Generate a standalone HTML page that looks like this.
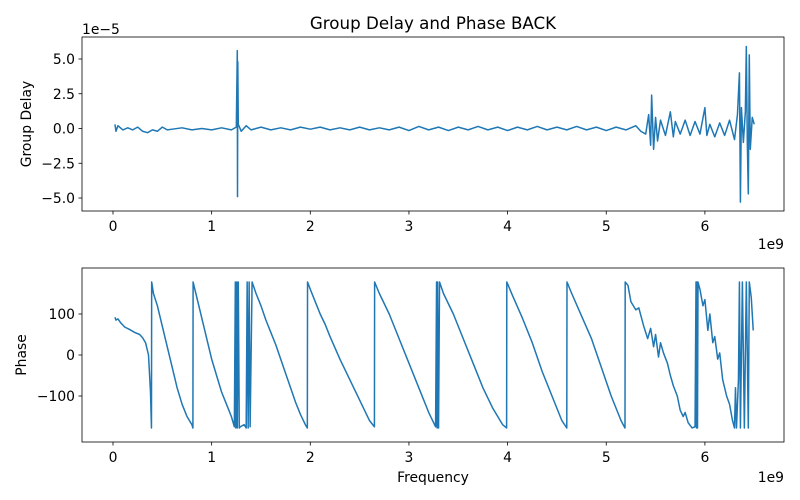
<!DOCTYPE html>
<html><head><meta charset="utf-8"><style>
body{margin:0;background:#fff}
svg{display:block;font-family:"DejaVu Sans","Liberation Sans",sans-serif}
</style></head><body>
<svg id="chart" width="800" height="500"></svg>
<script>
const gdFreq=[0.02,0.03,0.05,0.1,0.15,0.2,0.25,0.3,0.35,0.4,0.45,0.5,0.55,0.6,0.7,0.8,0.9,1.0,1.1,1.2,1.25,1.26,1.262,1.265,1.27,1.3,1.35,1.4,1.5,1.6,1.7,1.8,1.9,2.0,2.1,2.2,2.3,2.4,2.5,2.6,2.7,2.8,2.9,3.0,3.1,3.2,3.3,3.4,3.5,3.6,3.7,3.8,3.9,4.0,4.1,4.2,4.3,4.4,4.5,4.6,4.7,4.8,4.9,5.0,5.1,5.2,5.3,5.35,5.4,5.43,5.45,5.46,5.48,5.5,5.52,5.55,5.6,5.65,5.68,5.7,5.75,5.8,5.85,5.9,5.95,6.0,6.02,6.05,6.1,6.15,6.2,6.25,6.3,6.33,6.35,6.36,6.37,6.39,6.41,6.42,6.43,6.44,6.45,6.46,6.48,6.5];
const gdValue=[0.3,-0.2,0.2,-0.1,0.05,-0.1,0.1,-0.2,-0.3,-0.1,-0.2,0.1,-0.1,-0.05,0.05,-0.1,0.0,-0.1,0.05,-0.1,0.1,5.6,-4.9,4.8,0.3,-0.2,0.2,-0.1,0.1,-0.1,0.05,-0.1,0.1,-0.05,0.1,-0.1,0.05,-0.1,0.1,-0.1,0.05,-0.1,0.1,-0.15,0.15,-0.1,0.1,-0.15,0.1,-0.1,0.15,-0.1,0.1,-0.15,0.1,-0.1,0.15,-0.1,0.1,-0.1,0.15,-0.1,0.1,-0.15,0.1,-0.1,0.2,-0.2,-0.4,1.0,-1.2,2.4,-1.5,0.8,-0.9,0.6,-0.5,1.2,-0.6,0.5,-0.4,0.6,-0.5,0.5,-0.4,1.5,-0.5,0.3,-0.6,0.4,-0.5,0.6,-0.8,1.0,4.0,-5.3,1.5,-1.0,1.2,5.9,-1.0,-4.7,5.3,-1.5,0.8,0.3];
const phFreq=[0.02,0.03,0.05,0.08,0.12,0.17,0.22,0.27,0.3,0.33,0.36,0.38,0.39,0.392,0.41,0.45,0.5,0.55,0.6,0.65,0.7,0.75,0.8,0.81,0.812,0.85,0.9,0.95,1.0,1.05,1.1,1.15,1.2,1.23,1.24,1.245,1.255,1.26,1.27,1.28,1.29,1.33,1.35,1.36,1.37,1.38,1.39,1.41,1.45,1.5,1.55,1.6,1.65,1.7,1.75,1.8,1.85,1.9,1.95,1.97,1.972,2.0,2.05,2.1,2.15,2.2,2.3,2.4,2.5,2.6,2.65,2.652,2.7,2.8,2.9,3.0,3.1,3.2,3.27,3.28,3.285,3.29,3.3,3.31,3.35,3.45,3.55,3.65,3.75,3.85,3.95,3.99,3.992,4.05,4.15,4.25,4.35,4.45,4.55,4.6,4.602,4.65,4.75,4.85,4.95,5.05,5.15,5.19,5.192,5.22,5.25,5.3,5.33,5.38,5.42,5.45,5.48,5.5,5.53,5.55,5.58,5.62,5.65,5.68,5.72,5.75,5.78,5.8,5.83,5.87,5.9,5.91,5.915,5.92,5.925,5.93,5.95,5.98,6.0,6.03,6.05,6.08,6.1,6.13,6.15,6.18,6.2,6.22,6.25,6.28,6.3,6.31,6.32,6.34,6.35,6.36,6.38,6.4,6.42,6.44,6.45,6.47,6.49];
const phValue=[92,85,88,78,68,62,55,50,42,30,0,-90,-178,178,150,120,70,20,-30,-80,-120,-150,-170,-178,178,140,90,40,-10,-50,-90,-120,-150,-175,178,-178,178,-178,178,-178,-175,-170,-178,178,-178,178,-175,178,150,120,85,55,25,-10,-45,-80,-115,-145,-170,-178,178,160,130,100,75,45,-10,-60,-110,-160,-175,178,150,100,40,-20,-80,-140,-175,178,-178,178,-178,178,150,100,40,-20,-80,-130,-170,-178,178,145,90,30,-40,-100,-160,-178,178,150,95,40,-30,-100,-160,-178,178,170,130,110,115,70,40,65,20,50,-5,30,5,-20,-50,-75,-100,-135,-150,-140,-165,-178,-175,178,-178,178,-178,178,160,120,135,60,100,30,45,-10,5,-60,-80,-100,-120,-160,-178,-80,-178,-60,178,-178,178,-178,178,-178,178,140,60];
const xTicks=[0,1,2,3,4,5,6];
const gdTicks=[5.0,2.5,0.0,-2.5,-5.0];
const phTicks=[100,0,-100];

const NS="http://www.w3.org/2000/svg";
const svg=document.getElementById('chart');
function el(tag,attrs,parent,text){const e=document.createElementNS(NS,tag);for(const k in attrs)e.setAttribute(k,attrs[k]);if(text!==undefined)e.textContent=text;(parent||svg).appendChild(e);return e;}
const L=82,R=784,FS=13.9;
const xScale=v=>113+(v)*98.65;
function fmt(v){return (v<0?'\u2212':'')+Math.abs(v).toFixed(1);}
function axes(top,bot,yScale,yticks,yfmt,name,ylabel,ylx){
  const g=el('g',{},svg);
  
  
  xTicks.forEach(t=>{const x=xScale(t);
    el('line',{x1:x,x2:x,y1:bot,y2:bot+3.5,stroke:'#000','stroke-width':0.8},g);
    const tl=el('text',{x:x,y:bot+20,'text-anchor':'middle','font-size':FS},g,String(t));
    
    });
  yticks.forEach(t=>{const y=yScale(t);
    el('line',{x1:L-3.5,x2:L,y1:y,y2:y,stroke:'#000','stroke-width':0.8},g);
    const tl=el('text',{x:L-7,y:y+5,'text-anchor':'end','font-size':FS},g,yfmt(t));
    
    });
  const yl=el('text',{transform:`translate(${ylx},${(top+bot)/2}) rotate(-90)`,'text-anchor':'middle','font-size':FS},g,ylabel);
  
  
  return g;
}
function line(fs,vs,yScale,name){
  const d=fs.map((f,i)=>(i?'L':'M')+xScale(f).toFixed(2)+','+yScale(vs[i]).toFixed(2)).join('');
  const p=el('path',{d:d,fill:'none',stroke:'#1f77b4','stroke-width':1.5,'stroke-linejoin':'round'});
  
  
}
const gdY=v=>128.5-v*13.9;
axes(37,211,gdY,gdTicks,fmt,'group-delay-axes','Group Delay',31);
line(gdFreq,gdValue,gdY,'group-delay-line');
const f1=el('rect',{x:L,y:37,width:R-L,height:174,fill:'none',stroke:'#000','stroke-width':0.8});


const o1=el('text',{x:L,y:34,'font-size':FS},svg,'1e\u22125');


const o2=el('text',{x:R,y:249,'text-anchor':'end','font-size':FS},svg,'1e9');


const phY=v=>355-v*0.41;
axes(268,442,phY,phTicks,v=>(v<0?'\u2212':'')+Math.abs(v),'phase-axes','Phase',26);
line(phFreq,phValue,phY,'phase-line');
const f2=el('rect',{x:L,y:268,width:R-L,height:174,fill:'none',stroke:'#000','stroke-width':0.8});


const o3=el('text',{x:R,y:482,'text-anchor':'end','font-size':FS},svg,'1e9');


const xl=el('text',{x:433,y:482,'text-anchor':'middle','font-size':FS},svg,'Frequency');


const tt=el('text',{x:433,y:29,'text-anchor':'middle','font-size':16.7},svg,'Group Delay and Phase BACK');


</script>
</body></html>
